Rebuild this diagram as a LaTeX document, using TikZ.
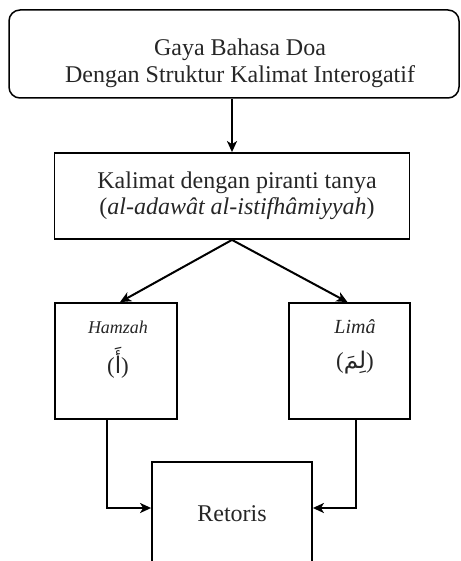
\documentclass[tikz,border=0pt]{standalone}
\usepackage{fontspec}
\setmainfont{Liberation Serif}
\newfontfamily\arabicfont[Script=Arabic]{DejaVu Sans}
\TeXXeTstate=1
\usetikzlibrary{arrows.meta,calc}
\begin{document}
\begin{tikzpicture}[x=1pt,y=-1pt,
  box/.style={draw, line width=1.8pt, rectangle, minimum width=#1, inner sep=0pt},
  txt/.style={align=center, inner sep=0pt, font=\fontsize{24}{27}\selectfont, text=black!85},
  arr/.style={line width=2pt, -{Stealth[length=11pt,width=10pt,inset=3pt]}}]
\useasboundingbox (0,0) rectangle (460,561);
\clip (0,0) rectangle (460,561);
\node[box=450pt, minimum height=88pt, rounded corners=11pt, line width=1.5pt] (top) at (234,54) {};
\node[txt] (toptext) at (240,63) {Gaya Bahasa Doa\\Dengan Struktur Kalimat Interogatif};
\node[box=355pt, minimum height=86pt] (k) at (232,196) {};
\node[txt, font=\fontsize{24}{26}\selectfont] (ktext) at (237,196) {Kalimat dengan piranti tanya\\(\textit{al-adawât al-istifhâmiyyah})};
\node[box=122pt, minimum height=116pt] (h) at (116,361) {};
\node[box=121pt, minimum height=116pt] (l) at (349.5,361) {};
\node[txt, font=\itshape\fontsize{18}{20}\selectfont] (htext) at (118,327) {Hamzah};
\node[txt, font=\fontsize{23}{26}\selectfont] (harab) at (118,363) {({\arabicfont\fontsize{23}{26}\selectfont أَ})};
\node[txt, font=\itshape\fontsize{20}{20}\selectfont] (ltext) at (355,327) {Limâ};
\node[txt, font=\fontsize{23}{26}\selectfont] (larab) at (355,363) {({\arabicfont\fontsize{23}{26}\selectfont لِمَ})};
\node[box=160pt, minimum height=104pt, font=\fontsize{24}{26}\selectfont, text=black!85] (r) at (232,514) {Retoris};
\draw[arr] (top.south -| k.north) -- (k.north);
\draw[arr] (k.south) -- ([xshift=4pt]h.north);
\draw[arr] (k.south) -- ([xshift=-2pt]l.north);
\draw[arr] ([xshift=-9pt]h.south) |- ([yshift=6pt]r.west);
\draw[arr] ([xshift=6pt]l.south) |- ([yshift=6pt]r.east);
\end{tikzpicture}
\end{document}
